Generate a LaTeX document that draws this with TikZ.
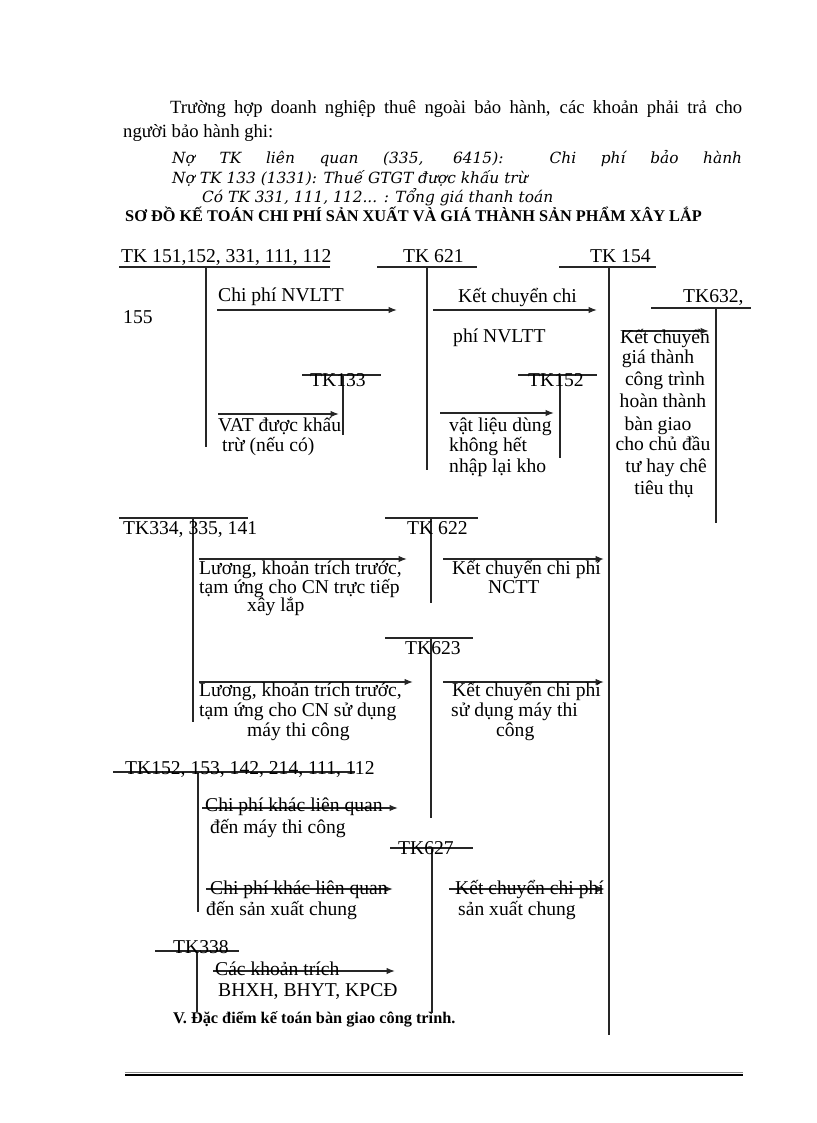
\documentclass[tikz,border=0pt]{standalone}
\usepackage{fontspec}
\setmainfont{Liberation Serif}
\newfontfamily\itfont{DejaVu Serif}
\usetikzlibrary{arrows.meta}
\newcommand\fd{\fontsize{19.6}{23}\selectfont}
\newcommand\fp{\fontsize{18.67}{22}\selectfont}
\newcommand\fb{\fontsize{16.3}{19}\selectfont\bfseries}
\newcommand\fit{\fontsize{15.4}{18}\selectfont\itfont\itshape}
\newcommand\tacct[6]{%
  \coordinate (#1l) at (#2,#4); \coordinate (#1r) at (#3,#4);
  \coordinate (#1t) at (#5,#4); \coordinate (#1b) at (#5,#6);
  \draw[acc] (#1l) -- (#1r) (#1t) -- (#1b);}
\newcommand\tarr[4]{%
  \coordinate (#1s) at (#2,#4); \coordinate (#1e) at (#3,#4);
  \draw[arr] (#1s) -- (#1e);}
\begin{document}
\begin{tikzpicture}[x=1pt,y=-1pt,
  lbl/.style={inner sep=0pt, anchor=mid west, font=\fd},
  clbl/.style={inner sep=0pt, anchor=mid, font=\fd},
  btxt/.style={inner sep=0pt, anchor=base west},
  acc/.style={line width=1.3pt, draw=black!85},
  arr/.style={line width=1.3pt, draw=black!85, -{Latex[length=8.5pt,width=6.5pt]}}]
\useasboundingbox (0,0) rectangle (816,1123);
% top text
\node[btxt, font=\fp] (t1) at (170,114) {\makebox[572pt][s]{Trường hợp doanh nghiệp thuê ngoài bảo hành, các khoản phải trả cho}};
\node[btxt, font=\fp] (t2) at (123,138) {người bảo hành ghi:};
\node[btxt, font=\fit] (i1) at (172,164) {\makebox[570pt][s]{Nợ TK liên quan (335, 6415): Chi phí bảo hành}};
\node[btxt, font=\fit] (i2) at (172,184) {Nợ TK 133 (1331): Thuế GTGT được khấu trừ};
\node[btxt, font=\fit] (i3) at (202,203) {Có TK 331, 111, 112... : Tổng giá thanh toán};
\node[btxt, font=\fb] (title) at (125,222) {SƠ ĐỒ KẾ TOÁN CHI PHÍ SẢN XUẤT VÀ GIÁ THÀNH SẢN PHẨM XÂY LẮP};
% accounts
\tacct{A}{119}{330}{267}{206}{447}
\tacct{B}{377}{477}{267}{427}{470}
\tacct{C}{559}{656}{267}{609}{1035}
\tacct{D}{302}{381}{375}{343}{435}
\tacct{E}{518}{597}{375}{560}{458}
\tacct{F}{651}{751}{308}{716}{523}
\tacct{G}{119}{248}{518}{193}{722}
\tacct{H}{385}{478}{518}{431}{603}
\tacct{I}{385}{473}{638}{431}{818}
\tacct{J}{113}{355}{772}{198}{912}
\tacct{K}{390}{473}{848}{432}{1013}
\tacct{L}{155}{239}{951}{197}{1012}
% arrows
\tarr{a1}{217}{397}{310}
\tarr{a2}{433}{597}{310}
\tarr{a3}{218}{339}{414}
\tarr{a4}{440}{554}{413}
\tarr{a5}{623}{709}{331}
\tarr{b1}{199}{407}{559}
\tarr{b2}{443}{604}{559}
\tarr{b3}{199}{413}{682}
\tarr{b4}{443}{604}{682}
\tarr{c1}{202}{398}{808}
\tarr{c2}{206}{393}{889}
\tarr{c3}{449}{605}{889}
\tarr{c4}{213}{395}{971}
% labels
\node[lbl] (nA) at (121,260) {TK 151,152, 331, 111, 112};
\node[lbl] (nB) at (403,260) {TK 621};
\node[lbl] (nC) at (590,260) {TK 154};
\node[lbl] (l1) at (218,299) {Chi phí NVLTT};
\node[lbl] (l155) at (123,321) {155};
\node[lbl] (l2) at (458,300) {Kết chuyển chi};
\node[lbl] (l3) at (453,340) {phí NVLTT};
\node[lbl] (nF) at (683,300) {TK632,};
\node[lbl] (nD) at (310,384) {TK133};
\node[lbl] (nE) at (528,384) {TK152};
\node[lbl] (l4) at (218,429) {VAT được khấu};
\node[lbl] (l5) at (222,449) {trừ (nếu có)};
\node[lbl] (l6) at (449,429) {vật liệu  dùng};
\node[lbl] (l7) at (449,449) {không hết};
\node[lbl] (l8) at (449,470) {nhập lại  kho};
\node[clbl] (p1) at (665,341) {Kết chuyển};
\node[clbl] (p2) at (658,361) {giá thành};
\node[clbl] (p3) at (665,383) {công trình};
\node[clbl] (p4) at (663,405) {hoàn thành};
\node[clbl] (p5) at (658,428) {bàn giao};
\node[clbl] (p6) at (663,448) {cho chủ đầu};
\node[clbl] (p7) at (666,470) {tư hay chê};
\node[clbl] (p8) at (664,492) {tiêu thụ};
\node[lbl] (nG) at (123,532) {TK334, 335, 141};
\node[lbl] (nH) at (407,532) {TK 622};
\node[lbl] (m1) at (199,572) {Lương, khoản trích trước,};
\node[lbl] (m2) at (199,591) {tạm ứng cho CN trực tiếp};
\node[lbl] (m3) at (247,609) {xây lắp};
\node[lbl] (m4) at (452,572) {Kết chuyển chi phí};
\node[lbl] (m5) at (488,591) {NCTT};
\node[lbl] (nI) at (405,652) {TK623};
\node[lbl] (m6) at (199,694) {Lương, khoản trích trước,};
\node[lbl] (m7) at (199,714) {tạm ứng cho CN sử dụng};
\node[lbl] (m8) at (247,734) {máy thi  công};
\node[lbl] (m9) at (452,694) {Kết chuyển chi phí};
\node[lbl] (m10) at (451,714) {sử dụng máy thi};
\node[lbl] (m11) at (496,734) {công};
\node[lbl] (nJ) at (125,772) {TK152, 153, 142, 214, 111, 112};
\node[lbl] (s1) at (205,809) {Chi phí khác liên  quan};
\node[lbl] (s2) at (210,831) {đến máy thi  công};
\node[lbl] (nK) at (398,852) {TK627};
\node[lbl] (s3) at (210,892) {Chi phí khác liên  quan};
\node[lbl] (s4) at (206,913) {đến sản xuất chung};
\node[lbl] (s5) at (455,892) {Kết chuyển chi phí};
\node[lbl] (s6) at (458,913) {sản xuất  chung};
\node[lbl] (nL) at (173,951) {TK338};
\node[lbl] (s7) at (215,973) {Các khoản trích};
\node[lbl] (s8) at (218,994) {BHXH,  BHYT, KPCĐ};
\node[btxt, font=\fb] (v) at (173,1023) {V. Đặc điểm kế toán bàn giao công trình.};
% footer rule
\coordinate (fl) at (125,1072); \coordinate (fr) at (743,1072);
\coordinate (gl) at (125,1075); \coordinate (gr) at (743,1075);
\draw[line width=1pt, black!45] (fl) -- (fr);
\draw[line width=2pt, black] (gl) -- (gr);
\end{tikzpicture}
\end{document}
